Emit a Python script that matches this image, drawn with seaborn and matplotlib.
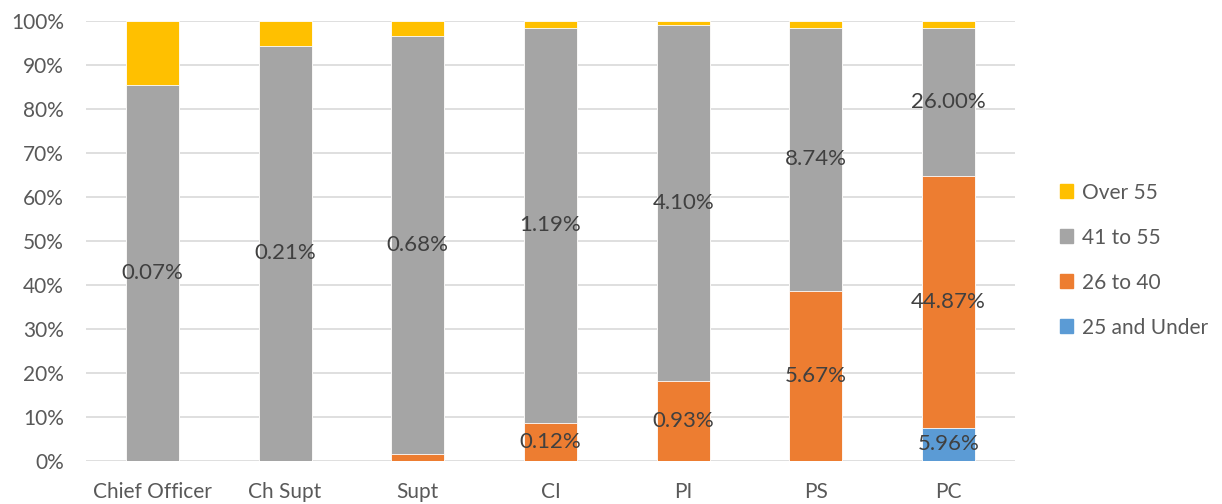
import matplotlib
matplotlib.use("Agg")
import matplotlib.pyplot as plt
import seaborn as sns
import pandas as pd
import numpy as np

ranks = ["Chief Officer", "Ch Supt", "Supt", "CI", "PI", "PS", "PC"]
under_25 = [0.0, 0.0, 0.0, 0.0, 0.0, 0.0, 7.6]
age_26_40 = [0.0, 0.0, 1.6, 8.7, 18.2, 38.6, 57.2]
age_41_55 = [85.5, 94.4, 95.0, 89.8, 80.8, 59.9, 33.5]
over_55 = [14.5, 5.6, 3.4, 1.5, 0.8, 1.5, 1.7]

# data labels (share of total) shown on the segments
lab_41_55 = ["0.07%", "0.21%", "0.68%", "1.19%", "4.10%", "8.74%", "26.00%"]
lab_26_40 = ["", "", "", "0.12%", "0.93%", "5.67%", "44.87%"]
lab_under_25 = ["", "", "", "", "", "", "5.96%"]

series = ["25 and Under", "26 to 40", "41 to 55", "Over 55"]
colors = ["#5B9BD5", "#ED7D31", "#A5A5A5", "#FFC000"]

df = pd.DataFrame({"rank": ranks, "25 and Under": under_25, "26 to 40": age_26_40,
                   "41 to 55": age_41_55, "Over 55": over_55})
cum = df[series].cumsum(axis=1)
tot = cum["Over 55"]
cum = cum.div(tot, axis=0) * 100

sns.set_style("white")
plt.rcParams["font.family"] = ["Lato", "DejaVu Sans"]

fig = plt.figure(figsize=(12.22, 5.04), dpi=100)
ax = fig.add_axes([0.0704, 0.0853, 0.7602, 0.873])

handles = []
for s, c in reversed(list(zip(series, colors))):
    sns.barplot(x=df["rank"], y=cum[s], color=c, width=0.4, ax=ax, saturation=1,
                edgecolor="white", linewidth=0.6, zorder=2)
    handles.append(plt.Rectangle((0, 0), 1, 1, color=c, label=s))

lower = {"25 and Under": np.zeros(len(ranks)), "26 to 40": cum["25 and Under"].values,
         "41 to 55": cum["26 to 40"].values}
labels = {"25 and Under": lab_under_25, "26 to 40": lab_26_40, "41 to 55": lab_41_55}
for s in ["25 and Under", "26 to 40", "41 to 55"]:
    mids = (lower[s] + cum[s].values) / 2
    for i, t in enumerate(labels[s]):
        if t:
            ax.text(i, mids[i], t, ha="center", va="center", fontsize=16,
                    color="#404040", zorder=3)

ax.set_ylim(0, 100)
ax.set_xlim(-0.5, 6.5)
ax.set_yticks(range(0, 101, 10))
ax.set_yticklabels([f"{v}%" for v in range(0, 101, 10)])
ax.yaxis.grid(True, color="#D9D9D9", linewidth=1.2, zorder=0)
ax.set_axisbelow(True)
for sp in ax.spines.values():
    sp.set_visible(False)
ax.tick_params(axis="both", length=0, labelsize=15, labelcolor="#595959")
ax.tick_params(axis="x", pad=15)
ax.tick_params(axis="y", pad=16)
ax.set_xlabel("")
ax.set_ylabel("")

fig.legend(handles=handles, loc="center left", bbox_to_anchor=(0.852, 0.484),
           frameon=False, fontsize=15, labelcolor="#595959", handlelength=0.65,
           handleheight=0.65, handletextpad=0.4, labelspacing=1.2)

fig.savefig("out.png", dpi=100)
